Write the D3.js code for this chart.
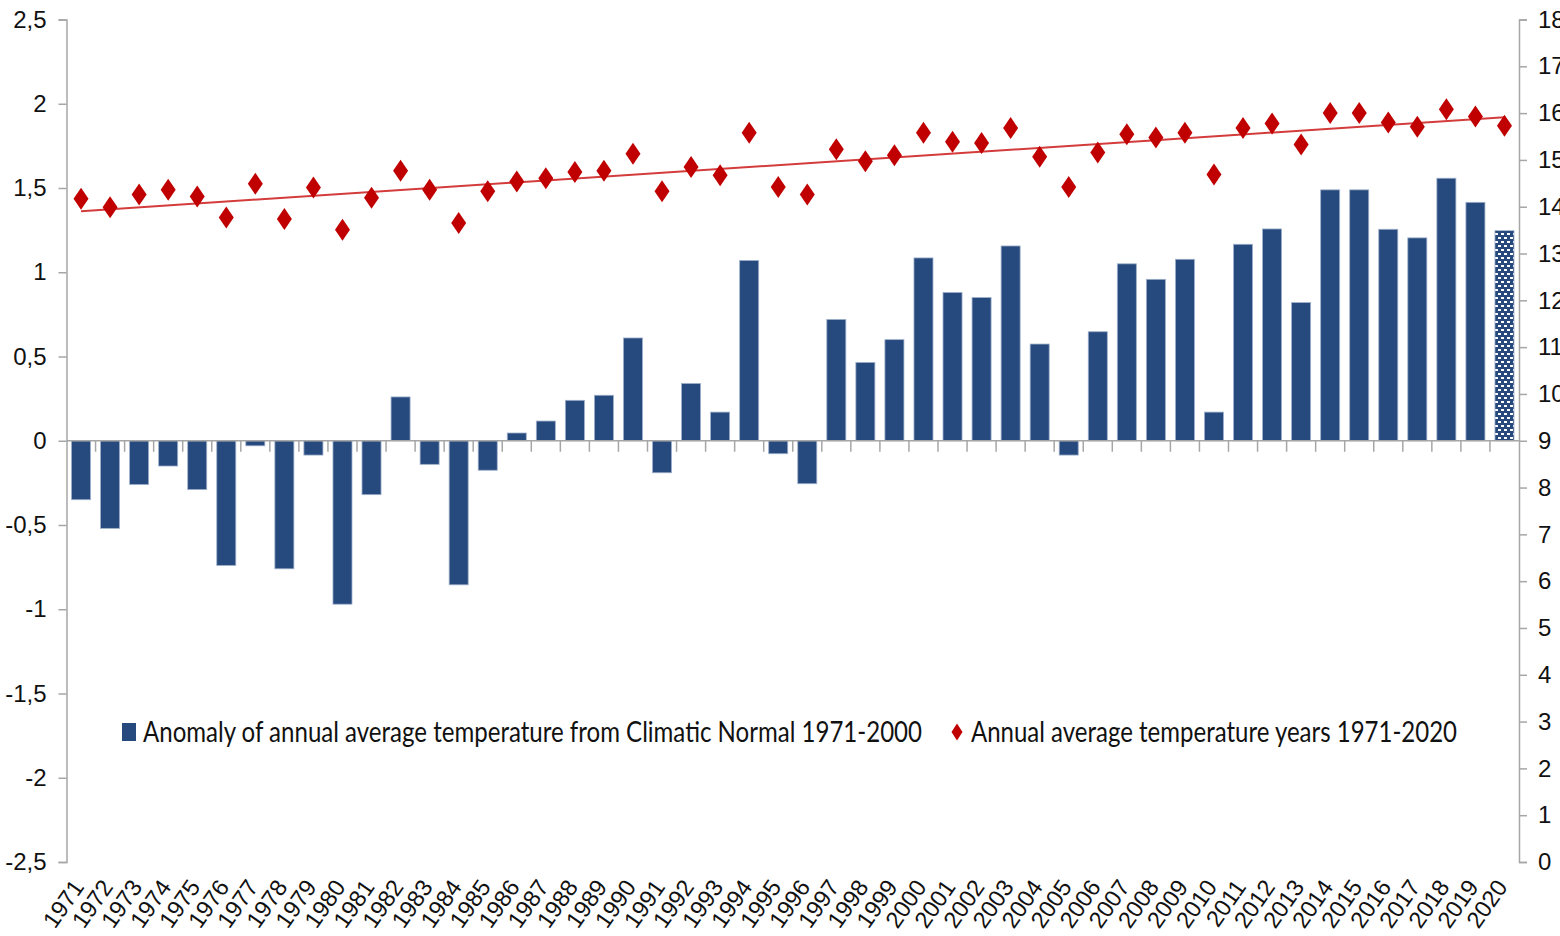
<!DOCTYPE html>
<html>
<head>
<meta charset="utf-8">
<script src="https://cdn.jsdelivr.net/npm/d3@7"></script>
<style>
  body { margin: 0; background: #fff; }
  svg text { font-family: "Liberation Sans Narrow", "Arial Narrow", "Liberation Sans", sans-serif; fill: #111; }
</style>
</head>
<body>
<svg id="chart"></svg>
<script>
const width = 1560;
const height = 936;

const years = d3.range(1971, 2021).map(String);

// anomaly from climatic normal 1971-2000 (left axis)
const anomaly = [
  -0.35, -0.52, -0.26, -0.15, -0.29, -0.74, -0.03, -0.76, -0.085, -0.97,
  -0.32, 0.26, -0.14, -0.855, -0.175, 0.046, 0.117, 0.24, 0.27, 0.61,
  -0.19, 0.34, 0.17, 1.07, -0.077, -0.255, 0.72, 0.465, 0.60, 1.085,
  0.88, 0.85, 1.156, 0.574, -0.085, 0.647, 1.05, 0.958, 1.077, 0.17,
  1.166, 1.257, 0.82, 1.489, 1.489, 1.255, 1.204, 1.558, 1.415, 1.247
];

// annual average temperature (right axis)
const temperature = [
  14.17, 13.99, 14.26, 14.36, 14.22, 13.77, 14.49, 13.74, 14.41, 13.51,
  14.19, 14.77, 14.36, 13.65, 14.33, 14.54, 14.61, 14.74, 14.77, 15.13,
  14.33, 14.85, 14.67, 15.58, 14.42, 14.26, 15.23, 14.97, 15.10, 15.58,
  15.39, 15.36, 15.68, 15.07, 14.42, 15.16, 15.55, 15.48, 15.58, 14.69,
  15.68, 15.78, 15.33, 16.0, 16.0, 15.80, 15.71, 16.08, 15.93, 15.73
];

const leftTicks = [2.5, 2, 1.5, 1, 0.5, 0, -0.5, -1, -1.5, -2, -2.5];
const rightTicks = d3.range(0, 19);
const provisionalYear = "2020";

const legendLabels = [
  "Anomaly of annual average temperature from Climatic Normal 1971-2000",
  "Annual average temperature years 1971-2020"
];

const barColor = "#264a7e";
const pointColor = "#c00000";
const axisColor = "#a6a6a6";

const svg = d3.select("#chart")
  .attr("width", width)
  .attr("height", height);

const x0 = 66.5, x1 = 1519, yTop = 19.5, yBottom = 862;

const x = d3.scaleBand()
  .domain(years)
  .range([x0, x1])
  .paddingInner(0.345)
  .paddingOuter(0.1725);

const yLeft = d3.scaleLinear().domain([-2.5, 2.5]).range([yBottom, yTop]);
const yRight = d3.scaleLinear().domain([0, 18]).range([yBottom, yTop]);

const fmt = d => String(d).replace(".", ",");

// pattern for the provisional year
const defs = svg.append("defs");
const pat = defs.append("pattern")
  .attr("id", "dots")
  .attr("patternUnits", "userSpaceOnUse")
  .attr("width", 6)
  .attr("height", 8);
pat.append("rect").attr("width", 6).attr("height", 8).attr("fill", barColor);
pat.append("rect").attr("x", 1).attr("y", 1).attr("width", 3).attr("height", 2).attr("fill", "#fff");
pat.append("rect").attr("x", 4).attr("y", 5).attr("width", 3).attr("height", 2).attr("fill", "#fff");
pat.append("rect").attr("x", -2).attr("y", 5).attr("width", 3).attr("height", 2).attr("fill", "#fff");

// left axis
const leftAxis = svg.append("g")
  .attr("transform", `translate(${x0},0)`)
  .call(d3.axisLeft(yLeft).tickValues(leftTicks).tickFormat(fmt).tickSize(8).tickPadding(12));
leftAxis.select(".domain").attr("stroke", axisColor).attr("stroke-width", 1.5);
leftAxis.selectAll(".tick line").attr("stroke", axisColor).attr("stroke-width", 1.5);
leftAxis.selectAll(".tick text").attr("font-size", 24).attr("fill", "#111")
  .style("font-family", "'Liberation Sans Narrow', 'Arial Narrow', sans-serif");

// right axis
const rightAxis = svg.append("g")
  .attr("transform", `translate(${x1},0)`)
  .call(d3.axisRight(yRight).tickValues(rightTicks).tickSize(8).tickPadding(11));
rightAxis.select(".domain").attr("stroke", axisColor).attr("stroke-width", 1.5);
rightAxis.selectAll(".tick line").attr("stroke", axisColor).attr("stroke-width", 1.5);
rightAxis.selectAll(".tick text").attr("font-size", 24).attr("fill", "#111")
  .style("font-family", "'Liberation Sans Narrow', 'Arial Narrow', sans-serif");

// bars
svg.append("g")
  .selectAll("rect")
  .data(years.map((yr, i) => ({ yr, v: anomaly[i] })))
  .join("rect")
  .attr("x", d => x(d.yr))
  .attr("width", x.bandwidth())
  .attr("y", d => yLeft(Math.max(0, d.v)))
  .attr("height", d => Math.abs(yLeft(d.v) - yLeft(0)))
  .attr("fill", d => d.yr === provisionalYear ? "url(#dots)" : barColor)
  .attr("stroke", "#9fb0cb")
  .attr("stroke-width", 0.8);

// category axis crossing at zero
const xAxis = svg.append("g")
  .attr("transform", `translate(0,${yLeft(0)})`);
xAxis.append("line")
  .attr("x1", x0).attr("x2", x1)
  .attr("stroke", axisColor).attr("stroke-width", 1.5);
xAxis.selectAll("line.tk")
  .data(years.slice(1))
  .join("line")
  .attr("class", "tk")
  .attr("x1", d => x(d) - x.step() * x.paddingInner() / 2)
  .attr("x2", d => x(d) - x.step() * x.paddingInner() / 2)
  .attr("y1", 0).attr("y2", 11)
  .attr("stroke", axisColor).attr("stroke-width", 1.5);

// year labels
svg.append("g")
  .selectAll("text")
  .data(years)
  .join("text")
  .attr("transform", d => `translate(${x(d) + x.bandwidth() / 2 + 4},${yBottom + 25}) rotate(-55)`)
  .attr("text-anchor", "end")
  .attr("font-size", 23.5)
  .text(d => d);

// trend line (least squares fit of the temperature series)
const idx = years.map((_, i) => i);
const mx = d3.mean(idx), my = d3.mean(temperature);
const slope = d3.sum(idx, i => (i - mx) * (temperature[i] - my)) / d3.sum(idx, i => (i - mx) ** 2);
const icpt = my - slope * mx;
const cx = yr => x(yr) + x.bandwidth() / 2;

svg.append("line")
  .attr("x1", cx(years[0]))
  .attr("y1", yRight(icpt))
  .attr("x2", cx(years[years.length - 1]))
  .attr("y2", yRight(icpt + slope * (years.length - 1)))
  .attr("stroke", "#d43b3b")
  .attr("stroke-width", 2);

// diamonds
const diamond = (w, h) => `M0,${-h / 2}L${w / 2},0L0,${h / 2}L${-w / 2},0Z`;
svg.append("g")
  .selectAll("path")
  .data(years.map((yr, i) => ({ yr, t: temperature[i] })))
  .join("path")
  .attr("transform", d => `translate(${cx(d.yr)},${yRight(d.t)})`)
  .attr("d", diamond(15, 22))
  .attr("fill", pointColor);

// legend
const legend = svg.append("g").attr("transform", "translate(0,732)");
legend.append("rect")
  .attr("x", 122).attr("y", -9).attr("width", 14).attr("height", 18)
  .attr("fill", barColor);
legend.append("text")
  .attr("x", 143).attr("y", 10)
  .attr("font-size", 29)
  .attr("textLength", 779)
  .attr("lengthAdjust", "spacingAndGlyphs")
  .style("font-family", "Lato, 'Open Sans', sans-serif")
  .text(legendLabels[0]);
legend.append("path")
  .attr("transform", "translate(957,0)")
  .attr("d", diamond(11, 17))
  .attr("fill", pointColor);
legend.append("text")
  .attr("x", 971).attr("y", 10)
  .attr("font-size", 29)
  .attr("textLength", 486)
  .attr("lengthAdjust", "spacingAndGlyphs")
  .style("font-family", "Lato, 'Open Sans', sans-serif")
  .text(legendLabels[1]);
</script>
</body>
</html>
